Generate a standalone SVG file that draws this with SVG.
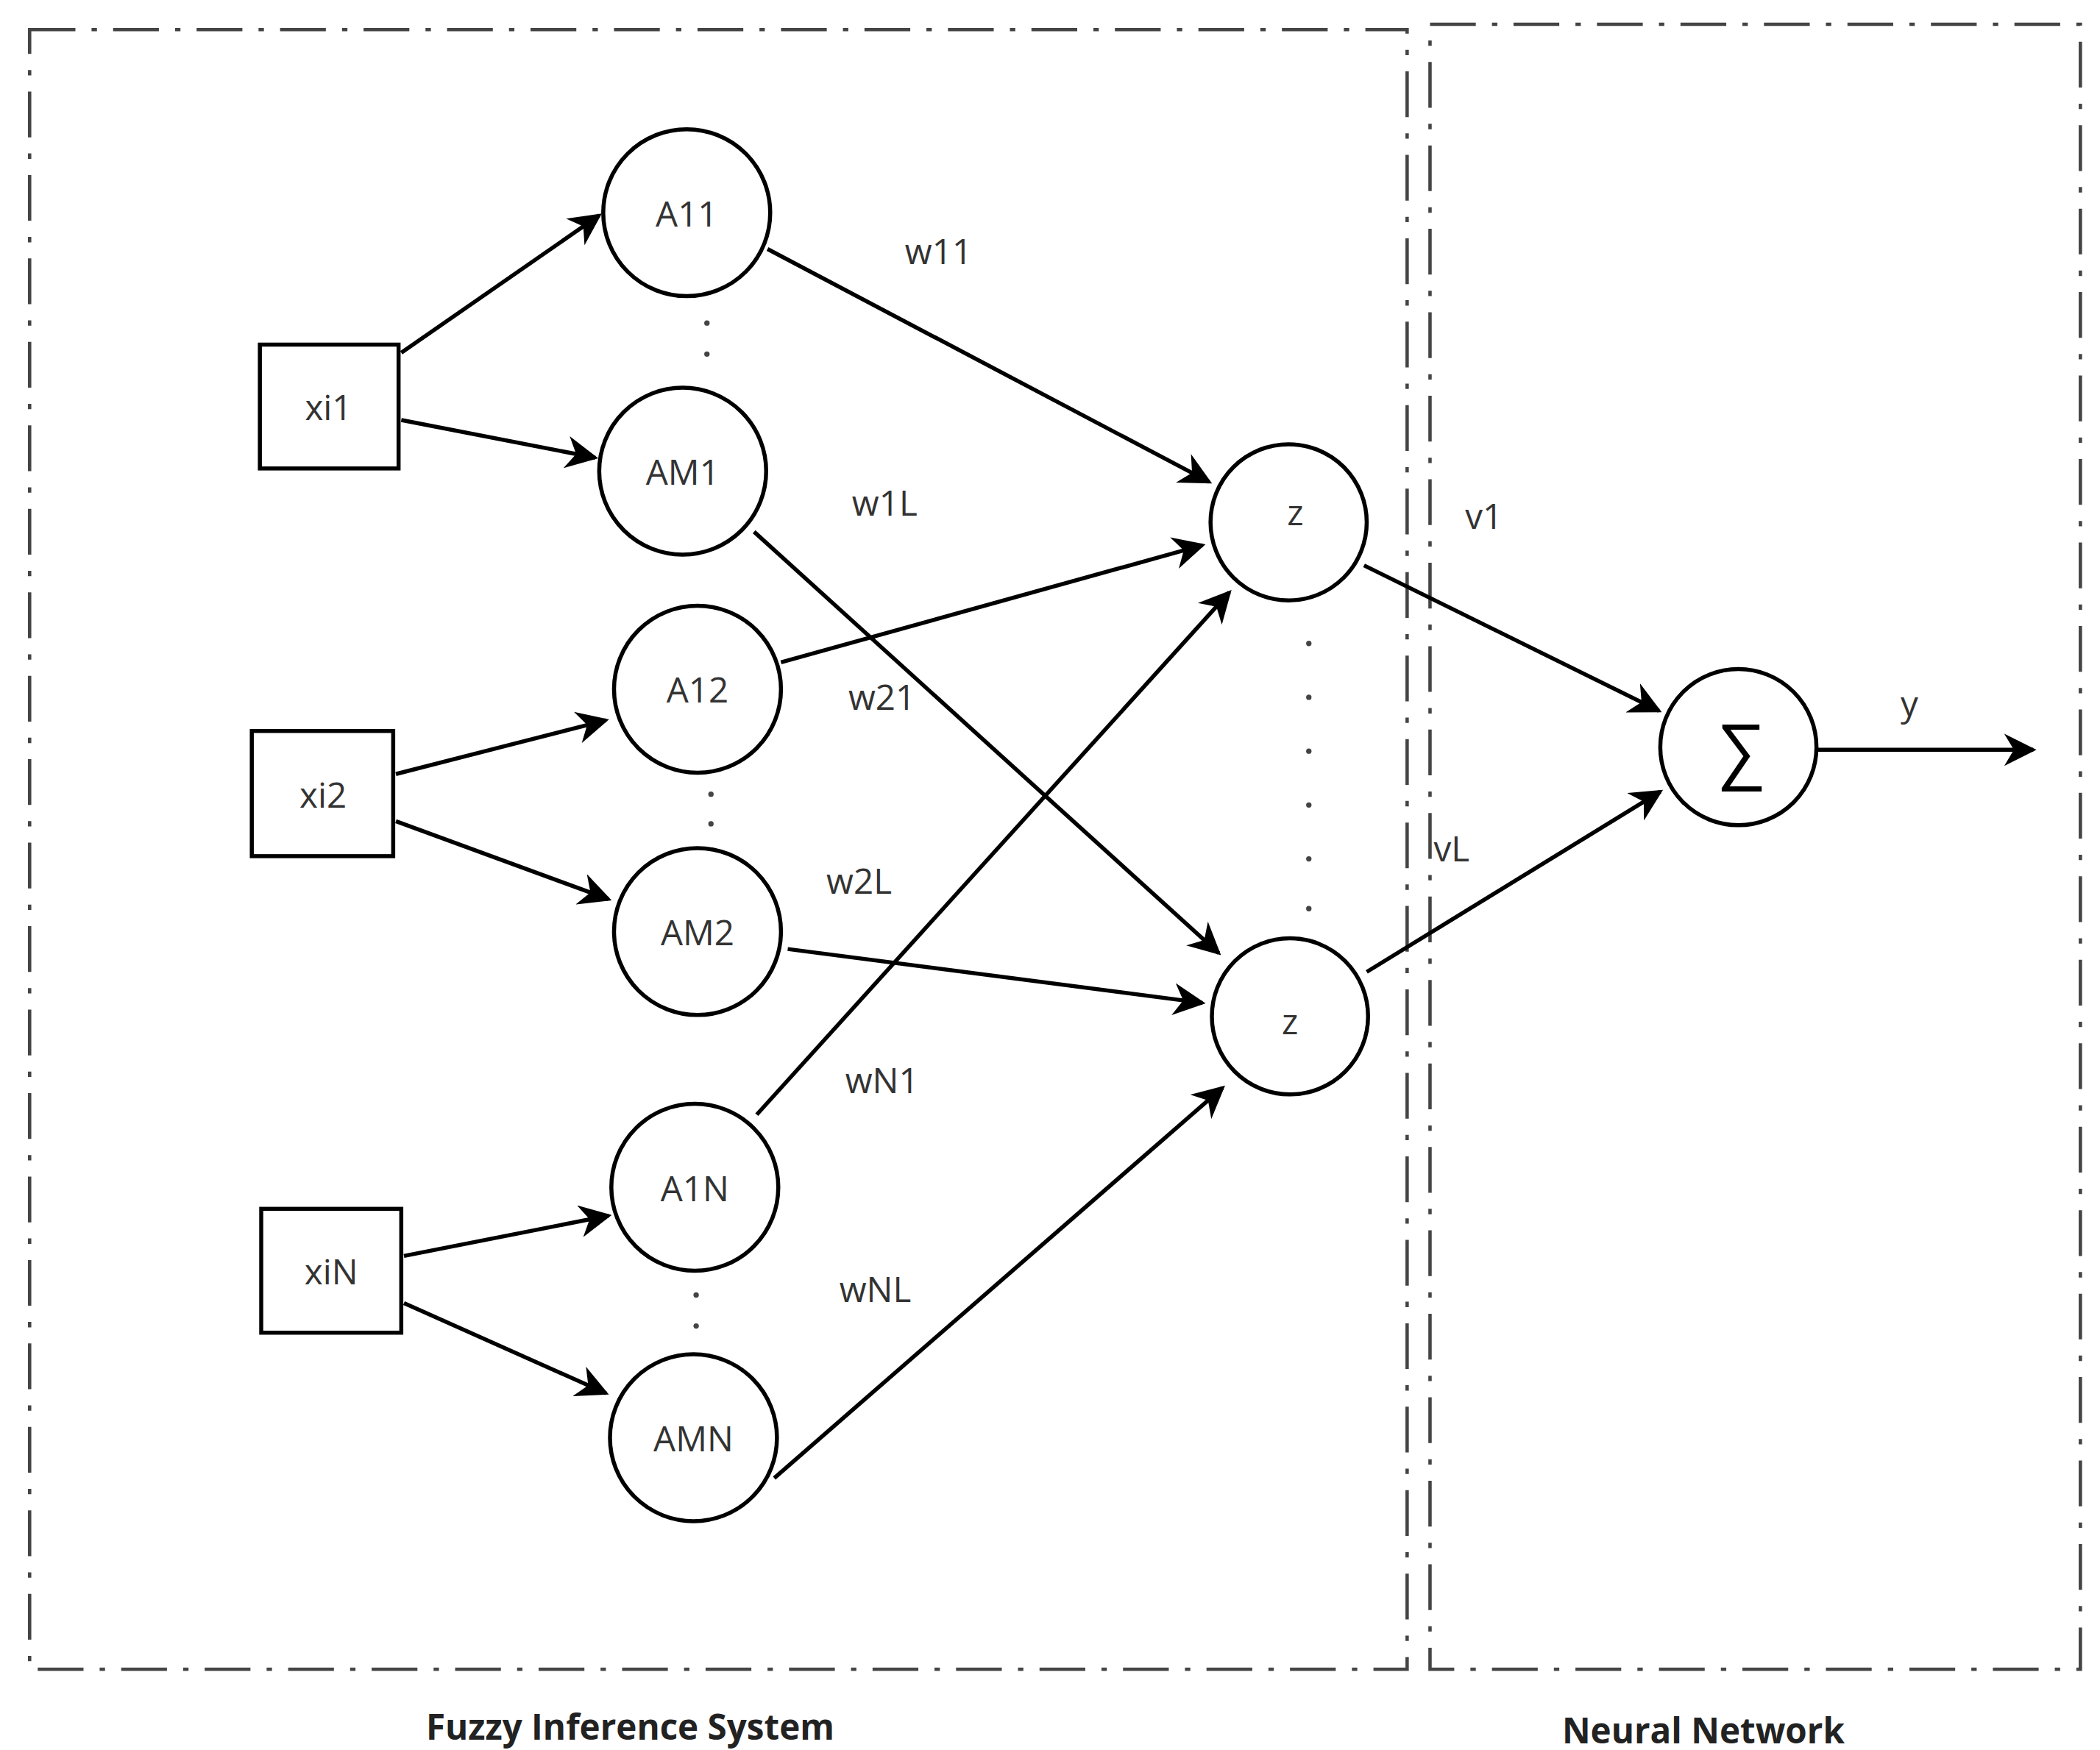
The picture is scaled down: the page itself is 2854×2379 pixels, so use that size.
<svg xmlns="http://www.w3.org/2000/svg" width="2854" height="2379" viewBox="0 0 2854 2379">
<defs>
<marker id="ah" viewBox="0 0 10 10" refX="9" refY="5" markerWidth="8" markerHeight="8" orient="auto"><path d="M0,0L10,5L0,10L3,5z" fill="#000"/></marker>
<style>
.n{fill:#fff;stroke:#000;stroke-width:3}
.e{stroke:#000;stroke-width:3;fill:none;marker-end:url(#ah)}
.t{font-family:"Open Sans","Liberation Sans",sans-serif;font-size:26px;fill:#333;text-anchor:middle;dominant-baseline:central}
.b{stroke:#444;stroke-width:2.5;fill:none;stroke-dasharray:34 12 4 12}
.d{fill:#444}
</style>
</defs>
<rect width="2854" height="2379" fill="#fff"/>
<g transform="scale(1.83)">
<g id="frames">
<rect class="b" x="22" y="22" width="1023" height="1218"/>
<rect class="b" x="1062" y="18" width="483" height="1222"/>
<text class="t" x="468" y="1282" style="font-weight:bold;fill:#222">Fuzzy Inference System</text>
<text class="t" x="1265" y="1285" style="font-weight:bold;fill:#222">Neural Network</text>
</g>
<g id="connectors">
<line class="e" x1="298" y1="262" x2="445" y2="160"/>
<line class="e" x1="298" y1="312" x2="442" y2="340"/>
<line class="e" x1="294" y1="575" x2="450" y2="535"/>
<line class="e" x1="294" y1="610" x2="452" y2="668"/>
<line class="e" x1="300" y1="933" x2="452" y2="903"/>
<line class="e" x1="300" y1="968" x2="450" y2="1035"/>
<line class="e" x1="570" y1="185" x2="898" y2="358"/>
<line class="e" x1="560" y1="395" x2="905" y2="708"/>
<line class="e" x1="580" y1="492" x2="893" y2="405"/>
<line class="e" x1="585" y1="705" x2="893" y2="745"/>
<line class="e" x1="562" y1="828" x2="913" y2="440"/>
<line class="e" x1="575" y1="1098" x2="908" y2="808"/>
<line class="e" x1="1013" y1="420" x2="1232" y2="528"/>
<line class="e" x1="1015" y1="722" x2="1233" y2="588"/>
<line class="e" x1="1350" y1="557" x2="1510" y2="557"/>
</g>
<g id="xi1"><rect class="n" x="193" y="256" width="103" height="92"/><text class="t" x="244" y="302">xi1</text></g>
<g id="xi2"><rect class="n" x="187" y="543" width="105" height="93"/><text class="t" x="240" y="590">xi2</text></g>
<g id="xiN"><rect class="n" x="194" y="898" width="104" height="92"/><text class="t" x="246" y="944">xiN</text></g>
<g id="A11"><circle class="n" cx="510" cy="158" r="62"/><text class="t" x="510" y="158">A11</text></g>
<g id="AM1"><circle class="n" cx="507" cy="350" r="62"/><text class="t" x="507" y="350">AM1</text></g>
<g id="A12"><circle class="n" cx="518" cy="512" r="62"/><text class="t" x="518" y="512">A12</text></g>
<g id="AM2"><circle class="n" cx="518" cy="692" r="62"/><text class="t" x="518" y="692">AM2</text></g>
<g id="A1N"><circle class="n" cx="516" cy="882" r="62"/><text class="t" x="516" y="882">A1N</text></g>
<g id="AMN"><circle class="n" cx="515" cy="1068" r="62"/><text class="t" x="515" y="1068">AMN</text></g>
<g id="z1"><circle class="n" cx="957" cy="388" r="58"/><text class="t" x="962" y="380">z</text></g>
<g id="z2"><circle class="n" cx="958" cy="755" r="58"/><text class="t" x="958" y="758">z</text></g>
<g id="sum"><circle class="n" cx="1291" cy="555" r="58"/><text class="t" x="1293" y="555" style="font-size:52px;fill:#000">∑</text></g>
<g id="dots">
<circle class="d" cx="525" cy="240" r="2"/><circle class="d" cx="525" cy="263" r="2"/>
<circle class="d" cx="528" cy="590" r="2"/><circle class="d" cx="528" cy="612" r="2"/>
<circle class="d" cx="517" cy="962" r="2"/><circle class="d" cx="517" cy="985" r="2"/>
<circle class="d" cx="972" cy="478" r="2"/><circle class="d" cx="972" cy="518" r="2"/><circle class="d" cx="972" cy="558" r="2"/><circle class="d" cx="972" cy="598" r="2"/><circle class="d" cx="972" cy="638" r="2"/><circle class="d" cx="972" cy="675" r="2"/>
</g>
<g id="labels">
<text class="t" x="697" y="186">w11</text>
<text class="t" x="657" y="373">w1L</text>
<text class="t" x="655" y="517">w21</text>
<text class="t" x="638" y="654">w2L</text>
<text class="t" x="655" y="802">wN1</text>
<text class="t" x="650" y="957">wNL</text>
<text class="t" x="1102" y="383">v1</text>
<text class="t" x="1078" y="630">vL</text>
<text class="t" x="1418" y="522">y</text>
</g>
</g>
</svg>
